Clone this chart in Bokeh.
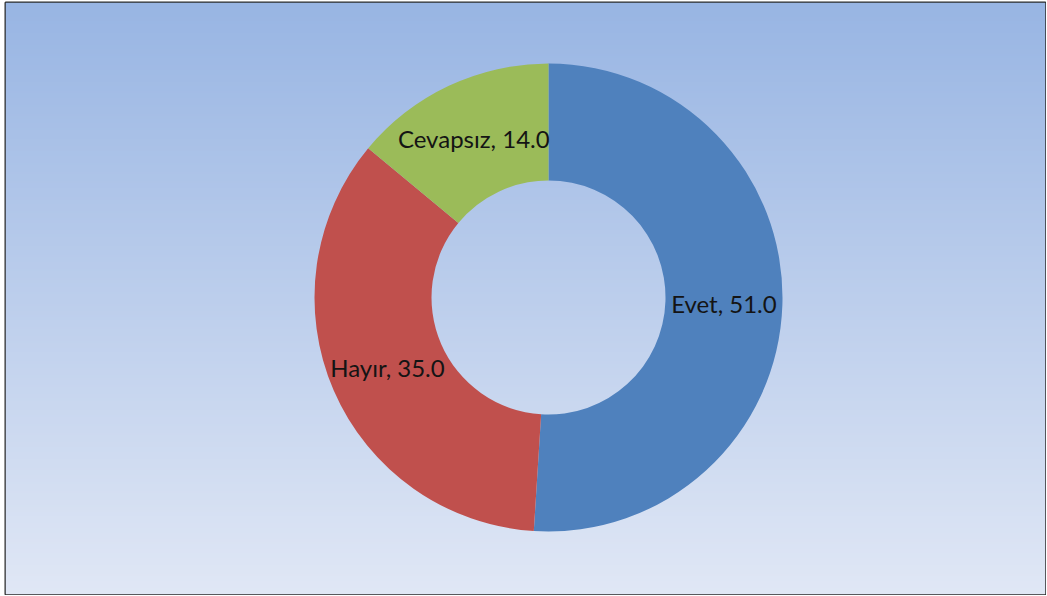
import numpy as np
from bokeh.plotting import figure
from bokeh.models import Range1d, ColumnDataSource
from bokeh.core.properties import value
from bokeh.embed import file_html
from bokeh.resources import INLINE

categories = ["Evet", "Hayır", "Cevapsız"]
values = [51.0, 35.0, 14.0]
colors = ["#4f81bd", "#c0504d", "#9bbb59"]

FW, FH = 1040, 592          # frame size
CX, CY = 543, 297
R_OUT, R_IN = 234, 117

p = figure(width=1046, height=595, output_backend="svg", toolbar_location=None,
           x_range=Range1d(0, FW), y_range=Range1d(0, FH),
           min_border_left=5, min_border_right=1, min_border_top=2, min_border_bottom=1,
           border_fill_color="white")
p.axis.visible = False
p.grid.visible = False
p.outline_line_color = "#2a2a2a"
p.outline_line_width = 2

# gradient background as a single image
n = 256
top = np.array([152, 181, 227])
bot = np.array([224, 231, 245])
t = np.linspace(0, 1, n)[:, None]  # row 0 = bottom
rgb = bot + (top - bot) * t
img = np.empty((n, 1), dtype=np.uint32)
view = img.view(dtype=np.uint8).reshape((n, 1, 4))
view[:, 0, 0] = rgb[:, 0].round().astype(np.uint8)
view[:, 0, 1] = rgb[:, 1].round().astype(np.uint8)
view[:, 0, 2] = rgb[:, 2].round().astype(np.uint8)
view[:, 0, 3] = 255
p.image_rgba(image=[img], x=0, y=0, dw=FW, dh=FH)

vals = np.array(values)
frac = vals / vals.sum()
cum = np.concatenate([[0], np.cumsum(frac)])
start = np.pi / 2 - cum[:-1] * 2 * np.pi
end = np.pi / 2 - cum[1:] * 2 * np.pi
mid = (start + end) / 2
src = ColumnDataSource(dict(
    start=start, end=end, color=colors,
    lx=CX + (R_OUT + R_IN) / 2 * np.cos(mid),
    ly=CY + (R_OUT + R_IN) / 2 * np.sin(mid),
    label=[f"{c}, {v:.1f}" for c, v in zip(categories, values)],
))
p.annular_wedge(x=CX, y=CY, inner_radius=R_IN, outer_radius=R_OUT,
                start_angle="end", end_angle="start", color="color",
                line_color=None, source=src)
p.text(x="lx", y="ly", text="label", source=src, text_align="center",
       text_baseline="middle", text_font=value("Lato"), text_font_size="24px",
       text_color="#141414")

open("out.html", "w").write(file_html(p, INLINE))
